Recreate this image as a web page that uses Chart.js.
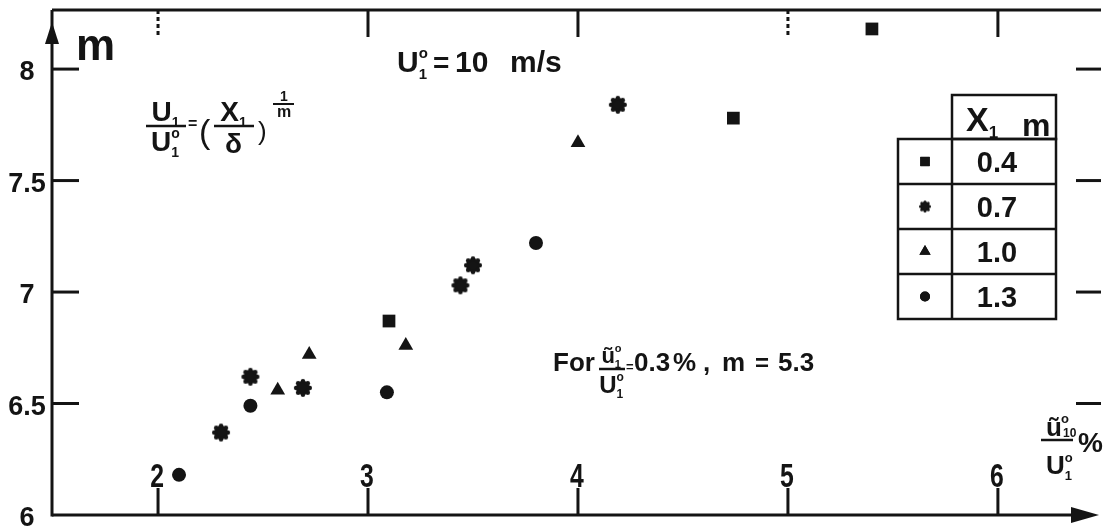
<!DOCTYPE html>
<html>
<head>
<meta charset="utf-8">
<script src="https://cdn.jsdelivr.net/npm/chart.js@4.4.1/dist/chart.umd.min.js"></script>
<style>
html, body { margin: 0; padding: 0; background: #fff; overflow: hidden; }
#wrap { width: 1110px; height: 528px; }
</style>
</head>
<body>
<div id="wrap"><canvas id="chart" width="1110" height="528"></canvas></div>
<script>
// valores (m frente a u10/U1 %)
const seriesLabels = ['0.4', '0.7', '1.0', '1.3'];
const squareX = [3.10, 4.74, 5.40];
const squareY = [6.87, 7.78, 8.18];
const starX = [2.30, 2.44, 2.69, 3.44, 3.50, 4.19];
const starY = [6.37, 6.62, 6.57, 7.03, 7.12, 7.84];
const triX = [2.57, 2.72, 3.18, 4.00];
const triY = [6.56, 6.72, 6.76, 7.67];
const circX = [2.10, 2.44, 3.09, 3.80];
const circY = [6.18, 6.49, 6.55, 7.22];

const xTicks = [2, 3, 4, 5, 6];
const yTicks = [6, 6.5, 7, 7.5, 8];
const yTickLabels = ['6', '6.5', '7', '7.5', '8'];
const topDashed = [2, 5];

const X_MIN = 1.495, X_MAX = 6.491;
const Y_MIN = 6, Y_MAX = 8.265;
const INK = '#141414';
const FONT = '"Liberation Sans", Arial, sans-serif';

const toPts = (xs, ys) => xs.map((v, i) => ({ x: v, y: ys[i] }));

// marcador "engranaje" para la serie 0.7
function gearMarker(r) {
    const size = Math.ceil(r * 2 + 4);
    const c = document.createElement('canvas');
    c.width = size; c.height = size;
    const g = c.getContext('2d');
    const m = size / 2;
    g.fillStyle = INK;
    g.beginPath();
    g.arc(m, m, r * 0.78, 0, Math.PI * 2);
    g.fill();
    for (let i = 0; i < 8; i++) {
        const a = i * Math.PI / 4;
        g.beginPath();
        g.arc(m + Math.cos(a) * r * 0.76, m + Math.sin(a) * r * 0.76, r * 0.25, 0, Math.PI * 2);
        g.fill();
    }
    return c;
}
const gearBig = gearMarker(9);
const gearSmall = gearMarker(6);

function txt(ctx, s, x, y, size, align = 'left', weight = 'bold') {
    ctx.font = `${weight} ${size}px ${FONT}`;
    ctx.textAlign = align;
    ctx.textBaseline = 'alphabetic';
    ctx.fillText(s, x, y);
    return ctx.measureText(s).width;
}

// letra con superindice "o" y subindice apilados (U°1)
function sym(ctx, base, sub, sup, size) {
    ctx.font = `bold ${size}px ${FONT}`;
    const wb = ctx.measureText(base).width;
    ctx.font = `bold ${size * 0.5}px ${FONT}`;
    const ws = Math.max(sub ? ctx.measureText(sub).width : 0, sup ? ctx.measureText(sup).width : 0);
    return {
        w: wb + ws + 1,
        draw(x, y) {
            txt(ctx, base, x, y, size);
            if (sup) txt(ctx, sup, x + wb, y - size * 0.48, size * 0.5);
            if (sub) txt(ctx, sub, x + wb, y + size * 0.22, size * 0.5);
        }
    };
}

function frac(ctx, cx, barY, num, den, barW, denDy, numDy = 3) {
    num.draw(cx - num.w / 2, barY - numDy);
    den.draw(cx - den.w / 2, barY + denDy);
    ctx.beginPath();
    ctx.moveTo(cx - barW / 2, barY);
    ctx.lineTo(cx + barW / 2, barY);
    ctx.stroke();
}

function seg(ctx, x1, y1, x2, y2) {
    ctx.beginPath();
    ctx.moveTo(x1, y1);
    ctx.lineTo(x2, y2);
    ctx.stroke();
}

const scanFrame = {
    id: 'scanFrame',
    afterDraw(chart) {
        const { ctx, chartArea: a, scales: { x, y } } = chart;
        ctx.save();
        ctx.strokeStyle = INK;
        ctx.fillStyle = INK;
        ctx.lineWidth = 3;

        // --- ejes y marco ---
        seg(ctx, a.left, a.bottom + 1.5, a.left, a.top);
        seg(ctx, a.left, a.top, a.right, a.top);
        seg(ctx, a.left, a.bottom, a.right - 24, a.bottom);
        ctx.beginPath();
        ctx.moveTo(a.right - 30, a.bottom - 8);
        ctx.lineTo(a.right - 2, a.bottom);
        ctx.lineTo(a.right - 30, a.bottom + 8);
        ctx.closePath();
        ctx.fill();
        ctx.beginPath();
        ctx.moveTo(a.left - 7, a.top + 34);
        ctx.lineTo(a.left, a.top + 12);
        ctx.lineTo(a.left + 7, a.top + 34);
        ctx.closePath();
        ctx.fill();

        // --- marcas de los ejes ---
        yTicks.forEach((v, i) => {
            const py = y.getPixelForValue(v);
            if (v > Y_MIN) {
                seg(ctx, a.left, py, a.left + 27, py);
                seg(ctx, a.right - 25, py, a.right, py);
            }
            txt(ctx, yTickLabels[i], 27, py + 11, 27, 'center');
        });
        xTicks.forEach(v => {
            const px = x.getPixelForValue(v);
            seg(ctx, px, a.bottom, px, a.bottom - 27);
            if (topDashed.includes(v)) ctx.setLineDash([4, 3]);
            seg(ctx, px, a.top, px, a.top + 27);
            ctx.setLineDash([]);
            ctx.save();
            ctx.translate(px - 1, a.bottom - 28);
            ctx.scale(0.75, 1);
            txt(ctx, String(v), 0, 0, 33, 'center');
            ctx.restore();
        });

        // --- textos ---
        txt(ctx, 'm', 76, 60, 44);
        sym(ctx, 'U', '1', 'o', 30).draw(397, 72);
        txt(ctx, '=', 433, 72, 28);
        txt(ctx, '10', 455, 72, 30);
        txt(ctx, 'm/s', 510, 72, 30);

        ctx.lineWidth = 2.5;
        frac(ctx, 166, 126, sym(ctx, 'U', '1', null, 28), sym(ctx, 'U', '1', 'o', 28), 40, 25, 5);
        txt(ctx, '=', 188, 129, 16);
        txt(ctx, '(', 199, 143, 34, 'left', 'normal');
        frac(ctx, 234, 126, sym(ctx, 'X', '1', null, 28), sym(ctx, 'δ', null, null, 28), 40, 27, 5);
        txt(ctx, ')', 258, 140, 26, 'left', 'normal');
        ctx.lineWidth = 2;
        seg(ctx, 273, 104, 294, 104);
        txt(ctx, '1', 284, 101, 14, 'center');
        txt(ctx, 'm', 284, 117, 16, 'center');

        ctx.lineWidth = 2.5;
        txt(ctx, 'For', 553, 371, 26);
        frac(ctx, 612, 369, sym(ctx, 'ũ', '1', 'o', 22), sym(ctx, 'U', '1', 'o', 24), 26, 24, 6);
        txt(ctx, '=', 626, 371, 13);
        txt(ctx, '0.3', 634, 371, 26);
        txt(ctx, '%', 673, 371, 26);
        txt(ctx, ',', 703, 371, 26);
        txt(ctx, 'm', 722, 371, 26);
        txt(ctx, '=', 755, 371, 24);
        txt(ctx, '5.3', 778, 371, 26);

        // rotulo del eje x: u10 / U1 en %
        seg(ctx, 1041, 440, 1073, 440);
        txt(ctx, 'ũ', 1046, 436, 26);
        txt(ctx, 'o', 1061, 423, 13);
        txt(ctx, '10', 1063, 437, 12);
        sym(ctx, 'U', '1', 'o', 26).draw(1046, 474);
        txt(ctx, '%', 1078, 452, 28);

        // --- tabla de leyenda ---
        const tl = 898, tm = 952, tr = 1056, rowH = 45, t0 = 139;
        ctx.lineWidth = 2.5;
        ctx.strokeRect(tm, 95, tr - tm, t0 - 95);
        ctx.strokeRect(tl, t0, tr - tl, rowH * seriesLabels.length);
        seg(ctx, tm, t0, tm, t0 + rowH * seriesLabels.length);
        for (let i = 1; i < seriesLabels.length; i++) seg(ctx, tl, t0 + rowH * i, tr, t0 + rowH * i);
        sym(ctx, 'X', '1', null, 34).draw(966, 131);
        txt(ctx, 'm', 1022, 136, 32);
        const styles = ['rect', gearSmall, 'triangle', 'circle'];
        const radii = [6.5, 6, 6.5, 5];
        seriesLabels.forEach((lab, i) => {
            const cy = t0 + rowH * i + rowH / 2;
            txt(ctx, lab, 997, cy + 10, 29, 'center');
            Chart.helpers.drawPoint(ctx, { pointStyle: styles[i], radius: radii[i], rotation: 0, borderWidth: 0 }, 925, cy);
            ctx.fill();
        });
        ctx.restore();
    }
};

const common = { showLine: false, borderWidth: 0, backgroundColor: INK, borderColor: INK };

new Chart(document.getElementById('chart'), {
    type: 'scatter',
    data: {
        datasets: [
            { ...common, label: seriesLabels[0], data: toPts(squareX, squareY), pointStyle: 'rect', pointRadius: 9 },
            { ...common, label: seriesLabels[1], data: toPts(starX, starY), pointStyle: gearBig, pointRadius: 9 },
            { ...common, label: seriesLabels[2], data: toPts(triX, triY), pointStyle: 'triangle', pointRadius: 8.5 },
            { ...common, label: seriesLabels[3], data: toPts(circX, circY), pointStyle: 'circle', pointRadius: 7 }
        ]
    },
    options: {
        responsive: false,
        devicePixelRatio: 1,
        animation: false,
        events: [],
        layout: { padding: { left: 52, top: 10, right: 0, bottom: 13 } },
        plugins: { legend: { display: false }, tooltip: { enabled: false } },
        scales: {
            x: { type: 'linear', display: false, min: X_MIN, max: X_MAX },
            y: { type: 'linear', display: false, min: Y_MIN, max: Y_MAX }
        }
    },
    plugins: [scanFrame]
});
</script>
</body>
</html>
